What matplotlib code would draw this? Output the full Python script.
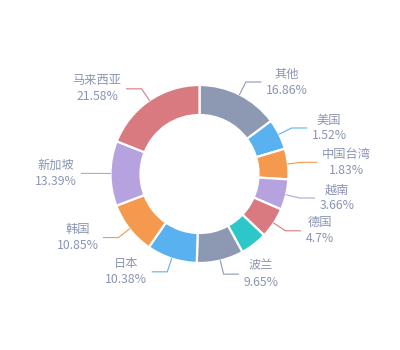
import numpy as np
import matplotlib.pyplot as plt

plt.rcParams['font.family'] = ['Noto Sans CJK SC', 'DejaVu Sans']

# slices clockwise from 12 o'clock; the teal one has no visible label
names = ['其他', '美国', '中国台湾', '越南', '德国', '', '波兰', '日本', '韩国', '新加坡', '马来西亚']
percents = [16.86, 1.52, 1.83, 3.66, 4.7, 5.58, 9.65, 10.38, 10.85, 13.39, 21.58]
palette = ['#8d98b3', '#5ab1ef', '#f5994e', '#b6a2de', '#d87a80', '#2ec7c9']
colors = [palette[i % len(palette)] for i in range(len(names))]
text_color = '#8a95b2'

MIN_ANGLE = 20  # small slices are widened to this, like echarts minAngle


def display_angles(vals, min_angle):
    total = sum(vals)
    small = [v / total * 360 < min_angle for v in vals]
    rest = 360 - min_angle * sum(small)
    big_sum = sum(v for v, s in zip(vals, small) if not s)
    return [min_angle if s else v * rest / big_sum for v, s in zip(vals, small)]


angles = display_angles(percents, MIN_ANGLE)

fig = plt.figure(figsize=(4, 3.5), dpi=100)
ax = fig.add_axes([0, 0, 1, 1])

cx, cy = 199.5, 176
R = 89
wedges, _ = ax.pie(angles, colors=colors, startangle=90, counterclock=False,
                   center=(cx, cy), radius=R,
                   wedgeprops=dict(width=30, edgecolor='white', linewidth=1.6))

len1, len2, gap = 14, 15, 5
for w, name, pct in zip(wedges, names, percents):
    if not name:
        continue
    mid = np.deg2rad((w.theta1 + w.theta2) / 2)
    c, s = np.cos(mid), np.sin(mid)
    x0, y0 = cx + R * c, cy + R * s
    x1, y1 = cx + (R + len1) * c, cy + (R + len1) * s
    side = 1 if c > 0 else -1
    x2 = x1 + side * len2
    ax.plot([x0, x1, x2], [y0, y1, y1], color=w.get_facecolor(), lw=0.8)
    ax.text(x2 + side * gap, y1, f'{name}\n{pct:g}%',
            ha='left' if side > 0 else 'right', va='center',
            multialignment='center', fontsize=8.8, color=text_color,
            linespacing=1.3)

ax.set_xlim(0, 400)
ax.set_ylim(0, 350)
ax.set_aspect('equal')
ax.axis('off')

fig.savefig('out.png', dpi=100)
